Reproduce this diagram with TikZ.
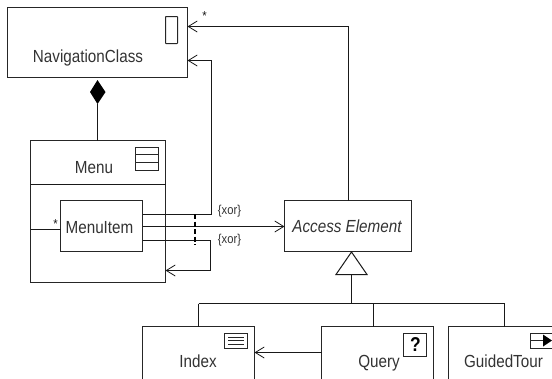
\documentclass[tikz,border=0pt]{standalone}
\usepackage{fontspec}
\setmainfont[FakeStretch=0.87]{Liberation Sans}
\usetikzlibrary{arrows.meta,calc}
\tikzset{
  box/.style={draw=black!85,line width=1pt,rectangle,inner sep=0pt,outer sep=0pt,fill=white},
  txt/.style={inner sep=0pt,anchor=base,font=\fontsize{17.5}{19}\selectfont,text=black!80},
  small/.style={inner sep=0pt,font=\fontsize{12.9}{15}\selectfont,text=black!80},
  star/.style={inner sep=0pt,font=\fontsize{13}{15}\selectfont,text=black!90},
  conn/.style={draw=black!90,line width=1pt},
  open/.style={conn,-{Straight Barb[length=9pt,width=11pt,line width=0.8pt]}},
  icon/.style={draw=black!85,line width=1pt,fill=white}
}
\begin{document}
\begin{tikzpicture}[x=1pt,y=-1pt]
\useasboundingbox (0,0) rectangle (552,378);
\clip (0,0) rectangle (552,378);
\fill[white] (0,0) rectangle (552,378);
% boxes
\node[box,minimum width=180pt,minimum height=70pt] (nav) at (97.5,42.5) {};
\node[box,minimum width=135pt,minimum height=142pt] (menu) at (98,211.5) {};
\node[box,minimum width=82pt,minimum height=51pt] (item) at (101.5,226) {};
\node[box,minimum width=127pt,minimum height=51pt] (acc) at (348,226) {};
\node[box,minimum width=112pt,minimum height=80pt] (index) at (198.5,366.5) {};
\node[box,minimum width=112pt,minimum height=80pt] (query) at (377.5,366.5) {};
\node[box,minimum width=112pt,minimum height=80pt] (guided) at (504.5,366.5) {};
% divider
\coordinate (divl) at (menu.west |- 0,184.5);
\coordinate (divr) at (menu.east |- 0,184.5);
\draw[conn] (divl) -- (divr);
% connectors
\coordinate (b1) at (211.5,214.5);
\coordinate (b2) at (211.5,60.5);
\draw[open] (item.east |- b1) -- (b1) -- (b2) -- (nav.east |- b2);
\draw[open] (item.east |- 0,226.5) -- (acc.west |- 0,226.5);
\coordinate (b3) at (210.5,240.5);
\coordinate (b4) at (210.5,270.5);
\draw[open] (item.east |- b3) -- (b3) -- (b4) -- (menu.east |- b4);
\coordinate (b5) at (348.5,26.5);
\draw[open] (b5 |- acc.north) -- (b5) -- (nav.east |- b5);
\draw[conn] (menu.west |- 0,229.5) -- (item.west |- 0,229.5);
\coordinate (dt) at (195,214);
\coordinate (db) at (195,245);
\draw[line width=1.6pt,black,dash pattern=on 5pt off 2.5pt] (dt) -- (db);
% composition
\coordinate (dtop) at (97.5,80);
\coordinate (dbot) at (97.5,104);
\coordinate (dl) at (90,92);
\coordinate (dr) at (105.5,92);
\draw[conn] (dbot) -- (menu.north -| dbot);
\fill[black] (dtop) -- (dr) -- (dbot) -- (dl) -- cycle;
% generalisation
\coordinate (apex) at (351.5,252);
\coordinate (tl) at (336,274.5);
\coordinate (tr) at (367,274.5);
\coordinate (tm) at (351.5,274.5);
\coordinate (hub) at (351.5,303.5);
\draw[conn,fill=white,line join=miter] (apex) -- (tr) -- (tl) -- cycle;
\draw[conn] (tm) -- (hub);
\coordinate (hl) at (198.5,303.5);
\coordinate (hq) at (373.5,303.5);
\coordinate (hr) at (504.5,303.5);
\draw[conn] (hl) -- (hr);
\draw[conn] (hl) -- (index.north -| hl);
\draw[conn] (hq) -- (query.north -| hq);
\draw[conn] (hr) -- (guided.north -| hr);
\draw[open,line width=0.9pt] (query.west |- 0,352.5) -- (index.east |- 0,352.5);
% icons
\draw[icon,rounded corners=0.5pt] (165.5,16.5) rectangle (177.5,43.5);
\draw[icon] (135.5,147.5) rectangle (158.5,170.5);
\draw[icon] (135.5,154.5) -- (158.5,154.5) (135.5,162.5) -- (158.5,162.5);
\draw[icon] (224.5,333.5) rectangle (247.5,348.5);
\draw[icon] (228,337.5) -- (244,337.5) (228,340.5) -- (244,340.5) (228,344.5) -- (244,344.5);
\draw[icon] (403.5,333.5) rectangle (426.5,356.5);
\node[inner sep=0pt,font=\bfseries\fontsize{20}{21}\selectfont] (qm) at (415.5,345) {?};
\draw[icon] (530.5,333.5) rectangle (560,348.5);
\draw[icon] (530.5,340.5) -- (543,340.5);
\fill[black] (543,334.5) -- (552,340.5) -- (543,346.5) -- cycle;
% labels
\node[txt] (tnav) at (88,62) {NavigationClass};
\node[txt] (tmenu) at (94,173.5) {Menu};
\node[txt] (titem) at (99.5,233) {MenuItem};
\node[txt] (tacc) at (347,232.5) {\itshape Access Element};
\node[txt] (tindex) at (198,367) {Index};
\node[txt] (tquery) at (379,367) {Query};
\node[txt] (tguided) at (503.5,367) {GuidedTour};
\node[small] (x1) at (229.5,211) {\{xor\}};
\node[small] (x2) at (229.5,240) {\{xor\}};
\node[star] (s1) at (204.5,16) {*};
\node[star] (s2) at (55.5,224) {*};
\end{tikzpicture}
\end{document}
